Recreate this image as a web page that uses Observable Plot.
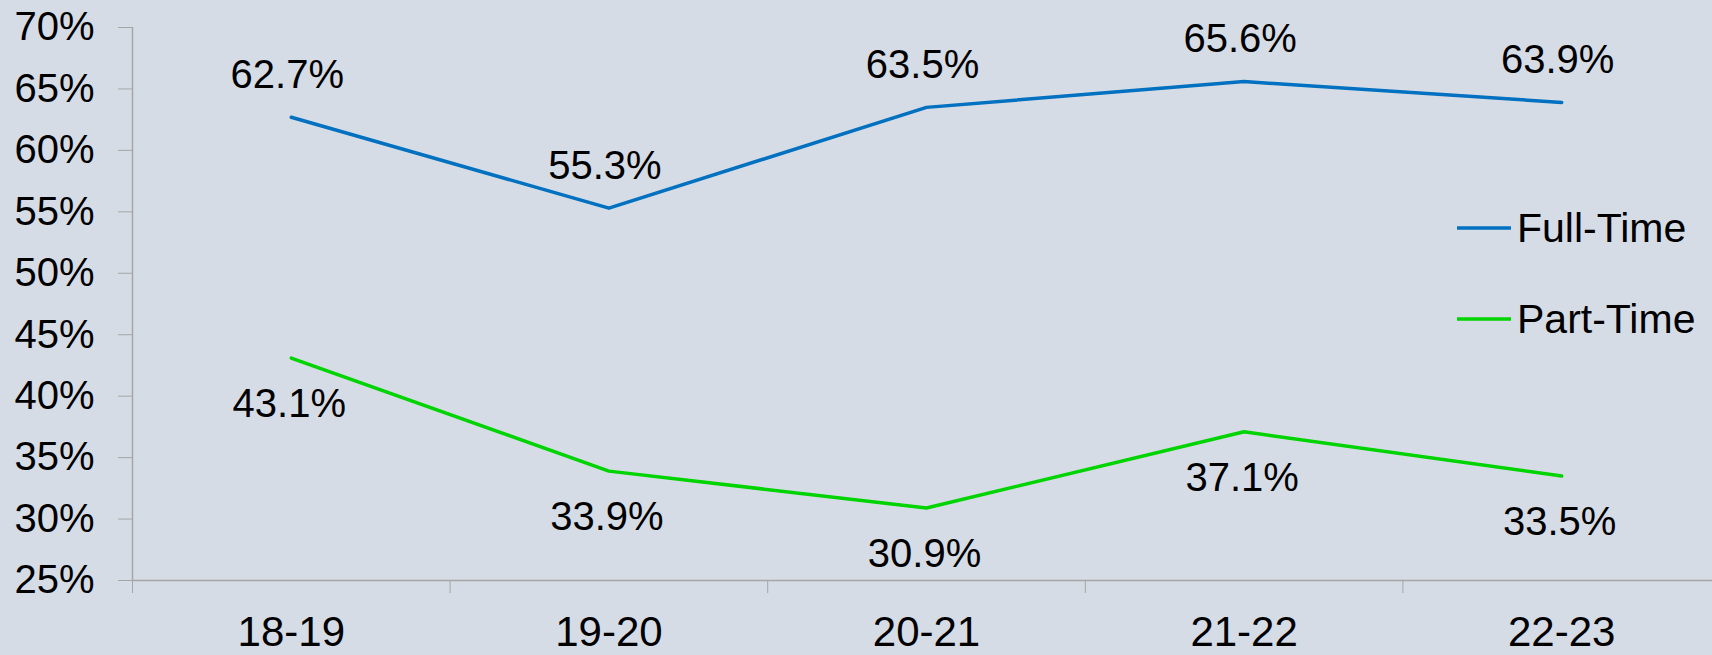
<!DOCTYPE html>
<html>
<head>
<meta charset="utf-8">
<script src="https://cdn.jsdelivr.net/npm/d3@7"></script>
<script src="https://cdn.jsdelivr.net/npm/@observablehq/plot@0.6"></script>
<style>
  html, body { margin: 0; padding: 0; background: #D6DCE5; }
  #wrap { position: relative; width: 1712px; height: 655px; overflow: hidden; font-family: "Liberation Sans", Arial, sans-serif; }
  #legend { position: absolute; left: 1457px; top: 204px; }
  .item { display: flex; align-items: center; height: 48px; margin-bottom: 43px; font-size: 41px; color: #000; }
  .item svg { margin-right: 6px; }
</style>
</head>
<body>
<div id="wrap"></div>
<script>
const categories = ["18-19", "19-20", "20-21", "21-22", "22-23"];
const fullTime = [62.7, 55.3, 63.5, 65.6, 63.9];
const partTime = [43.1, 33.9, 30.9, 37.1, 33.5];
const yTicks = [25, 30, 35, 40, 45, 50, 55, 60, 65, 70];
const seriesNames = ["Full-Time", "Part-Time"];
const seriesColors = ["#0070C0", "#00D400"];

const data = categories.flatMap((cat, i) => [
  {i, cat, series: seriesNames[0], value: fullTime[i]},
  {i, cat, series: seriesNames[1], value: partTime[i]}
]);
const boundaries = d3.range(categories.length + 1).map(i => i - 0.5);
const axisGray = "#A6A6A6";

const chart = Plot.plot({
  width: 1712,
  height: 655,
  marginLeft: 132,
  marginRight: 0,
  marginTop: 27,
  marginBottom: 75,
  style: {background: "#D6DCE5", fontFamily: "Liberation Sans, Arial, sans-serif", overflow: "visible"},
  x: {type: "linear", domain: [-0.5, categories.length - 0.5], range: [132, 1720]},
  y: {domain: [25, 70]},
  color: {domain: seriesNames, range: seriesColors},
  marks: [
    Plot.ruleY([25], {stroke: axisGray, strokeWidth: 1.5}),
    Plot.ruleX([-0.5], {stroke: axisGray, strokeWidth: 1.5}),
    Plot.axisY({ticks: yTicks, tickFormat: d => d + "%", tickSize: 14, tickPadding: 24, fontSize: 40, stroke: axisGray, fill: "#000", label: null}),
    Plot.axisX({ticks: boundaries, tickSize: 13, tickFormat: () => "", stroke: axisGray, label: null}),
    Plot.axisX({ticks: d3.range(categories.length), tickSize: 0, tickPadding: 36, tickFormat: i => categories[i], fontSize: 42, fill: "#000", label: null}),
    Plot.line(data, {x: "i", y: "value", z: "series", stroke: "series", strokeWidth: 3.5}),
    Plot.text(data.filter(d => d.series === seriesNames[0]), {x: "i", y: "value", text: d => d.value.toFixed(1) + "%", dy: -42, dx: -4, fontSize: 40, fill: "#000"}),
    Plot.text(data.filter(d => d.series === seriesNames[1]), {x: "i", y: "value", text: d => d.value.toFixed(1) + "%", dy: 46, dx: -2, fontSize: 40, fill: "#000"})
  ]
});

const wrap = document.getElementById("wrap");
wrap.appendChild(chart);

const legend = document.createElement("div");
legend.id = "legend";
seriesNames.forEach((name, k) => {
  const item = document.createElement("div");
  item.className = "item";
  item.innerHTML = `<svg width="54" height="8"><line x1="0" x2="54" y1="4" y2="4" stroke="${seriesColors[k]}" stroke-width="3.5"/></svg><span>${name}</span>`;
  legend.appendChild(item);
});
wrap.appendChild(legend);
</script>
</body>
</html>
